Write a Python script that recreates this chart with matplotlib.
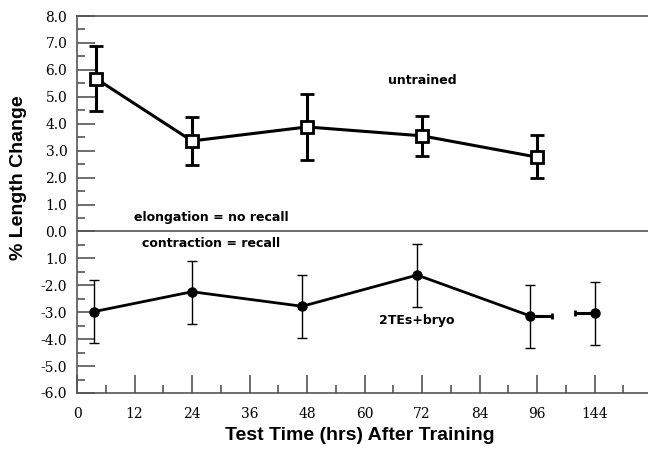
import matplotlib
matplotlib.use("Agg")
from matplotlib import pyplot as plt
from matplotlib.ticker import MultipleLocator

# untrained group (open squares)
untrained_x = [4, 24, 48, 72, 96]
untrained_y = [5.67, 3.36, 3.88, 3.55, 2.76]
untrained_hi = [6.90, 4.25, 5.11, 4.29, 3.59]
untrained_lo = [4.48, 2.47, 2.66, 2.81, 1.99]

# 2TEs+bryo group (filled circles)
bryo_x = [3.5, 24, 47, 71, 94.6]
bryo_y = [-2.98, -2.24, -2.78, -1.62, -3.14]
bryo_hi = [-1.80, -1.10, -1.62, -0.48, -2.00]
bryo_lo = [-4.14, -3.43, -3.95, -2.82, -4.32]

# separate 144 h point (drawn at the 108 slot)
late_x = [108]
late_y = [-3.04]
late_hi = [-1.88]
late_lo = [-4.22]

x_tick_pos = [0, 12, 24, 36, 48, 60, 72, 84, 96, 108]
x_tick_labels = ["0", "12", "24", "36", "48", "60", "72", "84", "96", "144"]
y_tick_pos = [8, 7, 6, 5, 4, 3, 2, 1, 0, -1, -2, -3, -4, -5, -6]
y_tick_labels = ["8.0", "7.0", "6.0", "5.0", "4.0", "3.0", "2.0", "1.0", "0.0",
                 "1.0", "-2.0", "-3.0", "-4.0", "-5.0", "-6.0"]

fig = plt.figure(figsize=(6.48, 4.53), dpi=100)
ax = fig.add_axes([77 / 648, 60 / 453, 575 / 648, 377 / 453])

gray = "#555555"

# upper series
err_up = [[y - lo for y, lo in zip(untrained_y, untrained_lo)],
          [hi - y for y, hi in zip(untrained_y, untrained_hi)]]
ax.errorbar(untrained_x, untrained_y, yerr=err_up, color="black", lw=2.2,
            elinewidth=2.2, capsize=4.7, capthick=2.2, marker="s", ms=8.5,
            mfc="white", mec="black", mew=2.0, zorder=3)

# lower series
err_lo = [[y - lo for y, lo in zip(bryo_y, bryo_lo)],
          [hi - y for y, hi in zip(bryo_y, bryo_hi)]]
ax.errorbar(bryo_x, bryo_y, yerr=err_lo, color="black", lw=2.0,
            elinewidth=1.0, capsize=3.6, capthick=1.0, marker="o", ms=6.5,
            zorder=3)
ax.errorbar([bryo_x[-1]], [bryo_y[-1]], xerr=[[0], [4.5]], color="black",
            elinewidth=2.2, capsize=2.5, capthick=2.0, fmt="none")

err_late = [[y - lo for y, lo in zip(late_y, late_lo)],
            [hi - y for y, hi in zip(late_y, late_hi)]]
ax.errorbar(late_x, late_y, yerr=err_late, color="black", elinewidth=1.0,
            capsize=3.6, capthick=1.0, marker="o", ms=6.5, ls="none", zorder=3)
ax.errorbar(late_x, late_y, xerr=[[4.0], [0]], color="black",
            elinewidth=2.2, capsize=2.5, capthick=2.0, fmt="none")

ax.axhline(0, color=gray, lw=1.2, zorder=1)

ax.set_xlim(0, 120)
ax.set_ylim(-6, 8)
ax.set_xticks(x_tick_pos)
ax.set_xticklabels(x_tick_labels)
ax.set_yticks(y_tick_pos)
ax.set_yticklabels(y_tick_labels)
ax.xaxis.set_minor_locator(MultipleLocator(6))
ax.yaxis.set_minor_locator(MultipleLocator(0.5))

for side in ["left", "bottom", "top", "right"]:
    ax.spines[side].set_color(gray)
    ax.spines[side].set_linewidth(1.2)

ax.tick_params(axis="both", which="both", direction="in", colors=gray,
               labelcolor="black", width=1.2)
ax.tick_params(axis="both", which="major", length=13)
ax.tick_params(axis="both", which="minor", length=6)
ax.tick_params(top=False, right=False, which="both")
ax.tick_params(axis="x", pad=10)
ax.tick_params(axis="y", pad=7)
for lab in ax.get_xticklabels() + ax.get_yticklabels():
    lab.set_family("DejaVu Serif")
    lab.set_fontsize(10)

ann = dict(ha="center", va="center", fontsize=9, fontweight="bold")
ax.text(72, 5.6, "untrained", **ann)
ax.text(28, 0.5, "elongation = no recall", **ann)
ax.text(28, -0.45, "contraction = recall", **ann)
ax.text(71, -3.3, "2TEs+bryo", **ann)

fig.text(18.5 / 648, 1 - 178 / 453, "% Length Change", rotation=90,
         ha="center", va="center", fontsize=14, fontweight="bold",
         family="Liberation Sans")
fig.text(360 / 648, 1 - 435 / 453, "Test Time (hrs) After Training",
         ha="center", va="center", fontsize=14, fontweight="bold",
         family="Liberation Sans")

fig.savefig("out.png", dpi=100)
